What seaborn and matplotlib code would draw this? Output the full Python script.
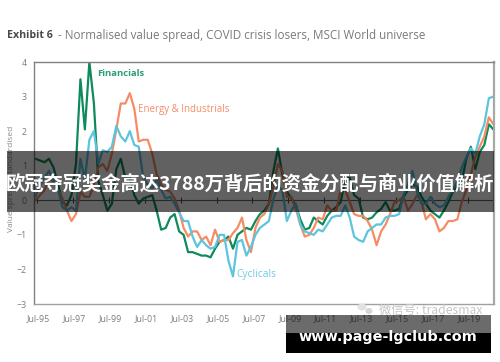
# Normalised value spread chart with the page overlays on top
import pandas as pd
import matplotlib
matplotlib.use("Agg")
import matplotlib.pyplot as plt
import matplotlib.dates as mdates
from matplotlib.patches import Rectangle, Ellipse
from matplotlib.transforms import ScaledTranslation
import seaborn as sns

start_month = "1995-06-01"

financials = [1.2, 1.15, 1.1, 1.2, 0.95, 0.45, -0.05, -0.15, 0.15, 1.05, 3.5, 2.05, 4.0, 2.8, 0.55, 0.15, -0.3, -0.1, 0.9, 1.2,
              0.65, 0.65, 0.15, -0.1, 0.05, 0.1, 0.15, -0.3, -0.85, -0.8, -0.5, -0.4, -0.9, -1.0, -1.5, -1.5, -1.55, -1.6, -1.6, -1.65,
              -1.4, -1.2, -1.15, -1.05, -1.4, -1.0, -0.9, -0.8, -0.85, -0.6, -0.4, -0.3, -0.1, 0.85, 1.5, 0.75, 0.25, 0.05, -0.15, -0.55,
              -0.85, -0.8, -0.5, -0.6, -0.7, -0.45, -0.3, -0.2, -0.05, 0.6, 0.65, 0.15, 0.05, -0.5, -0.55, -0.5, -0.35, -0.25, -0.05, -0.3,
              -0.3, -0.25, 0.1, 0.3, 0.45, 0.4, 0.1, -0.1, -0.3, -0.4, -0.5, -0.3, -0.05, 0.25, 0.4, 0.55, 1.2, 1.55, 0.9, 1.4,
              1.6, 2.2, 2.05]
energy_industrials = [0.0, 0.15, 0.3, 0.6, 0.55, 0.3, 0.05, -0.3, -0.6, -0.4, 0.25, 0.1, 0.1, 0.45, 0.95, 1.05, 0.85, 1.35, 2.05, 2.8,
                      2.8, 3.1, 2.65, 1.7, 1.75, 1.75, 1.35, 0.75, 0.45, 0.3, 0.25, 0.05, -0.3, -0.8, -1.05, -0.9, -0.9, -1.15, -1.05, -1.3,
                      -0.85, -1.2, -1.15, -1.15, -0.95, -0.8, -0.5, -1.15, -1.5, -0.8, -0.5, -0.4, -0.1, 0.4, 1.05, 0.85, 0.1, 0.1, -0.25, -0.7,
                      -1.05, -1.0, -0.8, -0.5, -0.55, -0.15, -0.3, -0.3, 0.3, 0.3, -0.05, -0.4, -0.45, -0.45, -0.6, -0.85, -1.3, -0.9, -0.7, -0.4,
                      -0.05, 0.0, 0.1, -0.3, -0.1, 0.15, -0.05, -0.55, -0.4, -0.55, -0.9, -0.8, -0.6, -0.6, -0.55, -0.05, 0.3, 0.75, 1.25, 1.55,
                      1.85, 2.4, 2.2]
cyclicals = [0.1, 0.45, 0.65, 0.85, 0.6, 0.3, -0.2, -0.3, -0.2, -0.3, 1.2, 0.6, 1.75, 2.0, 1.05, 1.45, 1.4, 1.55, 2.15, 1.85,
             1.7, 2.0, 1.6, 1.55, 0.65, 0.45, 0.35, 0.6, 0.3, 0.05, 0.1, -0.1, -0.35, -0.6, -0.6, -1.05, -1.35, -1.15, -1.3, -1.4,
             -1.35, -1.0, -1.0, -1.75, -2.2, -1.2, -1.15, -1.6, -1.35, -1.0, -0.8, -0.7, -0.6, 0.05, 0.4, 0.3, -0.6, -0.3, -0.1, -0.7,
             -0.9, -0.95, -1.0, -0.85, -0.9, -0.7, -0.5, -0.45, -0.45, -0.15, -0.5, -1.05, -1.15, -1.2, -0.9, -0.8, -0.7, -0.7, -0.5, -0.45,
             -0.45, -0.4, 0.15, 0.45, 0.85, 0.25, -0.1, -0.1, 0.1, -0.1, -0.2, -0.15, 0.1, 0.3, 0.55, 0.95, 1.25, 1.5, 1.35, 1.85,
             2.2, 2.95, 3.0]

y_ticks = [-3, -2, -1, 0, 1, 2, 3, 4]
tick_years = list(range(1995, 2020, 2))

green = "#0f8a5a"
orange = "#f58c66"
blue = "#5cc4dd"
grey_text = "#7d7d7d"

sns.set_theme(style="white")
plt.rcParams['font.family'] = ['Open Sans', 'Noto Sans CJK SC', 'DejaVu Sans']

W, H = 500, 362


def fx(px):
    return px / W


def fy(py):
    return 1 - py / H


dates = pd.date_range(start_month, periods=len(financials), freq="3MS")
df = pd.DataFrame({"date": dates, "Financials": financials,
                   "Energy & Industrials": energy_industrials, "Cyclicals": cyclicals})
long_df = df.melt(id_vars="date", var_name="sector", value_name="spread")

fig = plt.figure(figsize=(W / 100, H / 100), dpi=100, facecolor="white")
ax = fig.add_axes([fx(34), fy(304), 460 / W, 242 / H])
sns.lineplot(data=long_df, x="date", y="spread", hue="sector", ax=ax, legend=False, linewidth=1.6,
             hue_order=["Financials", "Energy & Industrials", "Cyclicals"], palette=[green, orange, blue])

ax.set_xlim(pd.Timestamp("1995-05-01"), pd.Timestamp("2020-12-15"))
ax.set_ylim(-3, 4)
ax.set_xlabel("")
ax.set_ylabel("")
ax.set_yticks(y_ticks)
tick_dates = [pd.Timestamp(year=y, month=7, day=1) for y in tick_years]
ax.set_xticks(tick_dates)
ax.xaxis.set_major_formatter(mdates.DateFormatter("%b-%y"))
ax.tick_params(axis="x", length=0, pad=7, labelsize=6.4, labelcolor=grey_text)
ax.tick_params(axis="y", length=0, pad=5, labelsize=6.4, labelcolor=grey_text)
nudge = ScaledTranslation(1.5 / 100, 0, fig.dpi_scale_trans)
for label in ax.get_xticklabels():
    label.set_transform(label.get_transform() + nudge)

# zero line carries the tick marks, labels stay at the bottom
zero_axis = ax.secondary_xaxis(3 / 7)
zero_axis.set_xticks(tick_dates)
zero_axis.set_xticklabels([])
zero_axis.tick_params(axis="x", direction="inout", length=5, width=0.8, color="#555555")
zero_axis.spines["bottom"].set_color("#666666")
zero_axis.spines["bottom"].set_linewidth(0.8)
zero_axis.spines["top"].set_visible(False)

for name, spine in ax.spines.items():
    spine.set_color("#808080")
    spine.set_linewidth(1.0)
ax.spines["right"].set_color("#a8a8a8")
ax.spines["right"].set_linewidth(1.6)
ax.spines["bottom"].set_color("#a0a0a0")

fig.text(fx(7), fy(35), "Exhibit 6", fontsize=7.7, fontweight="bold", color="#4a4a4a", va="center")
fig.text(fx(58), fy(35), "- Normalised value spread, COVID crisis losers, MSCI World universe",
         fontsize=8.35, color="#7a7a7a", va="center")
fig.text(fx(12), fy(179), "Value spread, standardised", fontsize=6.0, color="#8a8a8a",
         rotation=90, va="center", ha="center")
fig.text(fx(97), fy(73), "Financials", fontsize=6.8, color="#2a9d72", fontweight="bold", va="center")
fig.text(fx(138), fy(109), "Energy & Industrials", fontsize=7.0, color=orange, va="center")
fig.text(fx(236), fy(274), "Cyclicals", fontsize=7.4, color="#6fcbe2", va="center")

# page overlays
fig.add_artist(Rectangle((fx(7), fy(212)), 487 / W, 61 / H, transform=fig.transFigure,
                         facecolor="black", alpha=0.62, edgecolor="none", zorder=5))
fig.text(fx(250), fy(185), "欧冠夺冠奖金高达3788万背后的资金分配与商业价值解析", fontsize=13.9, fontweight="bold",
         color="white", ha="center", va="center", family=['Noto Sans CJK SC', 'DejaVu Sans'], zorder=6)

fig.add_artist(Ellipse((fx(362), fy(307)), 9 / W, 7 / H, transform=fig.transFigure,
                       facecolor="#e2e2e2", edgecolor="none", zorder=4))
fig.add_artist(Ellipse((fx(369), fy(311)), 7 / W, 6 / H, transform=fig.transFigure,
                       facecolor="#d6d6d6", edgecolor="none", zorder=4))
fig.text(fx(379), fy(310), "微信号: tradesmax", fontsize=8.8, color="#c6c6c6", va="center",
         family=['Noto Sans CJK SC', 'DejaVu Sans'], zorder=4)

fig.add_artist(Rectangle((fx(286), fy(333)), 205 / W, 18 / H, transform=fig.transFigure,
                         facecolor="black", alpha=0.58, edgecolor="none", zorder=5))
fig.add_artist(Rectangle((fx(286), fy(353)), 205 / W, 20 / H, transform=fig.transFigure,
                         facecolor="black", edgecolor="none", zorder=5))
fig.text(fx(388), fy(337), "www.page-lgclub.com", fontsize=10.4, fontweight="bold", color="white",
         ha="center", va="center", family="DejaVu Sans", zorder=6)

fig.savefig("out.png", dpi=100)
